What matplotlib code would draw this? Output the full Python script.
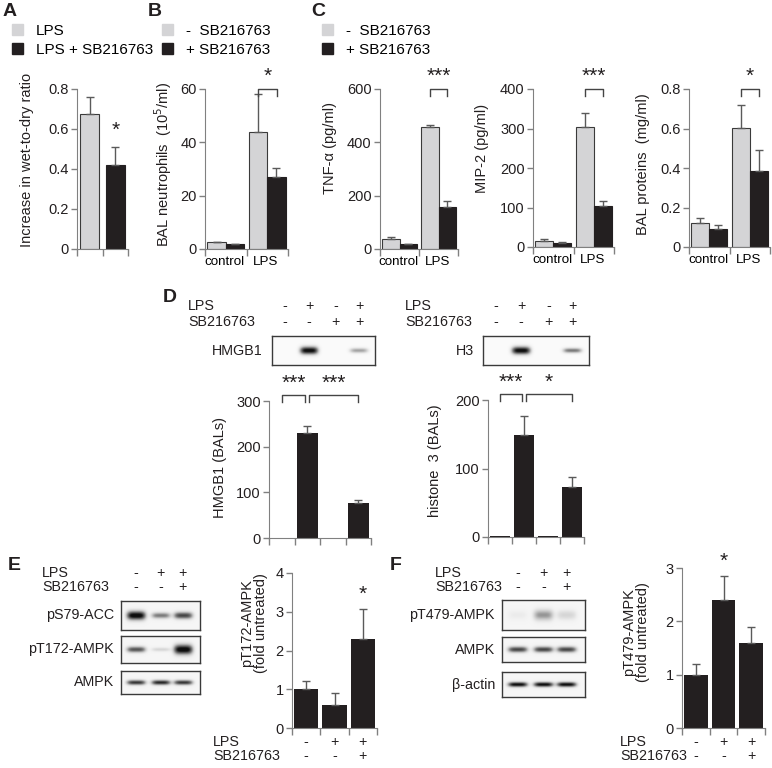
import numpy as np
import matplotlib
matplotlib.use('Agg')
import matplotlib.pyplot as plt
from matplotlib.patches import Patch

plt.rcParams['font.family'] = ['Liberation Sans', 'DejaVu Sans']
plt.rcParams['font.size'] = 10

W, H = 772, 768
LIGHT = '#d4d4d6'
DARK = '#231f20'
GREY = '#808080'
TXT = '#231f20'
FS = 10.5    # axis text
FC = 9.6     # category labels
FB = 10.3    # blot / treatment text

# ---- data ----
# A: wet-to-dry ratio
a_values = [0.675, 0.418]
a_err = [0.085, 0.09]

# B, C: light = - SB216763, dark = + SB216763
groups = ['control', 'LPS']
neut_minus, neut_minus_err = [2.5, 44], [0.3, 14]
neut_plus, neut_plus_err = [1.8, 27], [0.2, 3.4]
tnf_minus, tnf_minus_err = [36, 457], [10, 8]
tnf_plus, tnf_plus_err = [17, 159], [3, 20]
mip_minus, mip_minus_err = [16, 304], [4, 36]
mip_plus, mip_plus_err = [11, 103], [1.5, 14]
prot_minus, prot_minus_err = [0.124, 0.603], [0.025, 0.117]
prot_plus, prot_plus_err = [0.09, 0.385], [0.02, 0.107]

# D
d_lps = ['-', '+', '-', '+']
d_sb = ['-', '-', '+', '+']
hmgb1, hmgb1_err = [1, 230, 0.5, 76], [0, 15, 0, 7.5]
histone3, histone3_err = [1, 149, 2, 73], [0, 28, 0, 14]
hmgb1_band = [0.0, 1.0, 0.0, 0.45]
h3_band = [0.0, 1.0, 0.0, 0.6]

# E, F
ef_lps = ['-', '+', '+']
ef_sb = ['-', '-', '+']
pt172, pt172_err = [1.0, 0.6, 2.3], [0.22, 0.3, 0.77]
pt479, pt479_err = [1.0, 2.4, 1.6], [0.2, 0.45, 0.29]
e_blots = ['pS79-ACC', 'pT172-AMPK', 'AMPK']
e_band = [[1.0, 0.55, 0.75], [0.7, 0.2, 1.0], [0.8, 0.85, 0.8]]
f_blots = ['pT479-AMPK', 'AMPK', 'β-actin']
f_band = [[0.08, 0.45, 0.2], [0.75, 0.75, 0.75], [0.95, 0.95, 0.95]]

fig = plt.figure(figsize=(W / 100, H / 100), dpi=100)


def px_axes(x0, y0, x1, y1):
    return fig.add_axes([x0 / W, 1 - y1 / H, (x1 - x0) / W, (y1 - y0) / H])


def ftext(x, y, s, **kw):
    kw.setdefault('color', TXT)
    fig.text(x / W, 1 - y / H, s, **kw)


def fmt_dec(v):
    return '0' if v == 0 else f'{v:.1f}'


def fmt_int(v):
    return f'{v:.0f}'


def bar_axes(box, n, ymax, step, fmt, ylabel, ylab_xy):
    x0, y0, x1, y1 = box
    ax = px_axes(*box)
    ax.set_xlim(0, n)
    ax.set_ylim(0, ymax)
    for s in ['top', 'right']:
        ax.spines[s].set_visible(False)
    for s in ['left', 'bottom']:
        ax.spines[s].set_color(GREY)
    yt = np.arange(0, ymax + step / 2, step)
    ax.set_yticks(yt)
    ax.set_yticklabels([fmt(v) for v in yt])
    ax.set_xticks(np.arange(n + 1))
    ax.set_xticklabels([])
    ax.tick_params(axis='both', colors=GREY, labelcolor=TXT, length=4,
                   width=1, labelsize=FS, pad=2)
    ax.tick_params(axis='x', length=5)
    ax.patch.set_alpha(0)
    lx, ly = ylab_xy
    ax.text((lx - x0) / (x1 - x0), (y1 - ly) / (y1 - y0), ylabel, rotation=90,
            ha='center', va='center', transform=ax.transAxes, fontsize=FS,
            color=TXT, linespacing=0.95)
    return ax


def errs(ax, x, vals, err):
    ax.errorbar(x, vals, yerr=[np.zeros(len(vals)), err], fmt='none',
                ecolor='#5a5a5a', elinewidth=1, capsize=3, capthick=1)


def grouped(ax, minus, minus_err, plus, plus_err):
    x = np.arange(len(groups)) + 0.5
    ax.bar(x - 0.22, minus, 0.44, color=LIGHT, edgecolor='#3a3a3a', lw=0.8)
    ax.bar(x + 0.22, plus, 0.44, color=DARK, edgecolor=DARK, lw=0.8)
    errs(ax, x - 0.22, minus, minus_err)
    errs(ax, x + 0.22, plus, plus_err)
    ax.set_xticks(x - 0.03, minor=True)
    ax.set_xticklabels(groups, minor=True)
    ax.tick_params(axis='x', which='minor', length=0, pad=5, labelsize=FC)


def bracket(ax, xa, xb, ytop, ybot, stars, ystar):
    tr = ax.get_xaxis_transform()
    ax.plot([xa, xa, xb, xb], [ybot, ytop, ytop, ybot], color='#444444',
            lw=1, transform=tr, clip_on=False)
    ax.text((xa + xb) / 2, ystar, stars, ha='center', va='center',
            transform=tr, fontsize=15, color=TXT)


def star(ax, x, y):
    ax.text(x, y, '*', ha='center', va='center',
            transform=ax.get_xaxis_transform(), fontsize=15, color=TXT)


def blot(box, bands, thick, lanes, bg=0.05):
    x0, y0, x1, y1 = box
    ax = px_axes(*box)
    w, h = (x1 - x0) * 4, (y1 - y0) * 4
    xx = np.linspace(0, 1, w)[None, :]
    yy = np.linspace(0, 1, h)[:, None]
    img = np.full((h, w), bg)
    hw = 0.36 / len(lanes)
    for c, inten, t in zip(lanes, bands, thick):
        hh = t / 2 / (y1 - y0)
        img = img + inten * np.exp(-((xx - c) / hw) ** 4) * np.exp(-((yy - 0.5) / hh) ** 2)
    ax.imshow(np.clip(img, 0, 1), cmap='Greys', vmin=0, vmax=1.05,
              aspect='auto', extent=[0, 1, 0, 1], interpolation='bilinear')
    ax.set_xticks([])
    ax.set_yticks([])
    for s in ax.spines.values():
        s.set_color('#3a3a3a')
        s.set_linewidth(1)
    return ax


# ---- panel letters ----
for lab, x, y in [('A', 3, 12), ('B', 148, 12), ('C', 311, 12), ('D', 163, 298),
                  ('E', 8, 565), ('F', 390, 565)]:
    ftext(x, y, lab, fontsize=14, fontweight='bold', va='center', ha='left')

# ---- legends ----
leg_kw = dict(loc='upper left', frameon=False, handlelength=0.75, handleheight=0.75,
              handletextpad=0.8, labelspacing=0.3, borderpad=0, borderaxespad=0,
              fontsize=11)
fig.legend(handles=[Patch(color=LIGHT, label='LPS'), Patch(color=DARK, label='LPS + SB216763')],
           bbox_to_anchor=(12 / W, 1 - 24 / H), **leg_kw)
for lx in [162, 322]:
    fig.legend(handles=[Patch(color=LIGHT, label='-  SB216763'), Patch(color=DARK, label='+ SB216763')],
               bbox_to_anchor=(lx / W, 1 - 24 / H), **leg_kw)

# ---- A ----
ax = bar_axes((77, 89, 128, 249), 2, 0.8, 0.2, fmt_dec,
              'Increase in wet-to-dry ratio', (27, 160))
xa = np.arange(2) + 0.5
ax.bar(xa, a_values, 0.76, color=[LIGHT, DARK], edgecolor=['#3a3a3a', DARK], lw=0.8)
errs(ax, xa, a_values, a_err)
star(ax, 1.5, 0.74)

# ---- B ----
ax = bar_axes((205, 89, 288, 249), 2, 60, 20, fmt_int,
              'BAL neutrophils  (10$^5$/ml)', (163, 164))
grouped(ax, neut_minus, neut_minus_err, neut_plus, neut_plus_err)
bracket(ax, 1.28, 1.73, 1.0, 0.955, '*', 1.08)

# ---- C ----
ax = bar_axes((380, 89, 458, 249), 2, 600, 200, fmt_int, 'TNF-α (pg/ml)', (330, 148))
grouped(ax, tnf_minus, tnf_minus_err, tnf_plus, tnf_plus_err)
bracket(ax, 1.28, 1.73, 1.0, 0.955, '***', 1.08)

ax = bar_axes((533, 89, 614, 247), 2, 400, 100, fmt_int, 'MIP-2 (pg/ml)', (482, 148))
grouped(ax, mip_minus, mip_minus_err, mip_plus, mip_plus_err)
bracket(ax, 1.28, 1.73, 1.0, 0.955, '***', 1.08)

ax = bar_axes((689, 89, 770, 247), 2, 0.8, 0.2, fmt_dec, 'BAL proteins  (mg/ml)', (643, 164))
grouped(ax, prot_minus, prot_minus_err, prot_plus, prot_plus_err)
bracket(ax, 1.28, 1.73, 1.0, 0.955, '*', 1.08)

# ---- D blots ----
d_lanes = [0.12, 0.36, 0.62, 0.845]
for (bx0, bx1, lab_x, name), bands in zip(
        [(272, 375, 188, 'HMGB1'), (483, 589, 405, 'H3')], [hmgb1_band, h3_band]):
    blot((bx0, 336, bx1, 365), bands, [0, 8, 0, 5], d_lanes, bg=0.04)
    ftext(lab_x, 306, 'LPS', fontsize=FB, va='center')
    ftext(lab_x, 322, 'SB216763', fontsize=FB, va='center')
    for c, l, s in zip(d_lanes, d_lps, d_sb):
        xp = bx0 + c * (bx1 - bx0)
        ftext(xp, 306, l, fontsize=FB, va='center', ha='center')
        ftext(xp, 322, s, fontsize=FB, va='center', ha='center')
    ftext(bx0 - 9, 351, name, fontsize=FB, va='center', ha='right')

xd = np.arange(4) + 0.5
ax = bar_axes((269, 401, 371, 538), 4, 300, 100, fmt_int, 'HMGB1 (BALs)', (220, 468))
ax.bar(xd, hmgb1, 0.82, color=DARK)
errs(ax, xd[[1, 3]], np.array(hmgb1)[[1, 3]], np.array(hmgb1_err)[[1, 3]])
bracket(ax, 0.5, 1.42, 1.044, 0.99, '***', 1.13)
bracket(ax, 1.58, 3.5, 1.044, 0.99, '***', 1.13)

ax = bar_axes((488, 400, 584, 537), 4, 200, 100, fmt_int, 'histone  3 (BALs)', (435, 461))
ax.bar(xd, histone3, 0.82, color=DARK)
errs(ax, xd[[1, 3]], np.array(histone3)[[1, 3]], np.array(histone3_err)[[1, 3]])
bracket(ax, 0.5, 1.42, 1.044, 0.99, '***', 1.13)
bracket(ax, 1.58, 3.5, 1.044, 0.99, '*', 1.13)

# ---- E / F blots ----
ef_lanes = [0.19, 0.5, 0.78]
e_boxes = [(601, 630), (636, 663), (671, 694)]
f_boxes = [(600, 630), (637, 662), (672, 697)]
e_thick = [[9, 6, 7], [6, 4, 10], [5, 5, 5]]
f_thick = [[10, 11, 10], [6, 6, 6], [5, 5, 5]]
for bx0, bx1, lab_x, names, bands, boxes, thick in [
        (121, 200, 42, e_blots, e_band, e_boxes, e_thick),
        (502, 585, 435, f_blots, f_band, f_boxes, f_thick)]:
    ftext(lab_x, 573, 'LPS', fontsize=FB, va='center')
    ftext(lab_x, 587, 'SB216763', fontsize=FB, va='center')
    for c, l, s in zip(ef_lanes, ef_lps, ef_sb):
        xp = bx0 + c * (bx1 - bx0)
        ftext(xp, 573, l, fontsize=FB, va='center', ha='center')
        ftext(xp, 587, s, fontsize=FB, va='center', ha='center')
    for name, b, (by0, by1), t in zip(names, bands, boxes, thick):
        blot((bx0, by0, bx1, by1), b, t, ef_lanes, bg=0.08)
        ftext(bx0 - 7, (by0 + by1) / 2, name, fontsize=FB, va='center', ha='right')

xe = np.arange(3) + 0.5
for box, vals, err, ymax, lab, labxy, bottom_x, star_y, star_i in [
        ((292, 573, 377, 728), pt172, pt172_err, 4, 'pT172-AMPK\n(fold untreated)', (254, 623), 213, 0.86, 2),
        ((682, 568, 765, 728), pt479, pt479_err, 3, 'pT479-AMPK\n(fold untreated)', (636, 632), 620, 1.04, 1)]:
    ax = bar_axes(box, 3, ymax, 1, fmt_int, lab, labxy)
    ax.bar(xe, vals, 0.86, color=DARK)
    errs(ax, xe, vals, err)
    star(ax, xe[star_i], star_y)
    hgt = box[3] - box[1]
    tr = ax.get_xaxis_transform()
    for xi, l, s in zip(xe, ef_lps, ef_sb):
        ax.text(xi, -14 / hgt, l, ha='center', va='center', transform=tr, fontsize=FB, color=TXT)
        ax.text(xi, -28 / hgt, s, ha='center', va='center', transform=tr, fontsize=FB, color=TXT)
    ftext(bottom_x, box[3] + 14, 'LPS', fontsize=FB, va='center')
    ftext(bottom_x, box[3] + 28, 'SB216763', fontsize=FB, va='center')

fig.savefig('out.png', dpi=100)
